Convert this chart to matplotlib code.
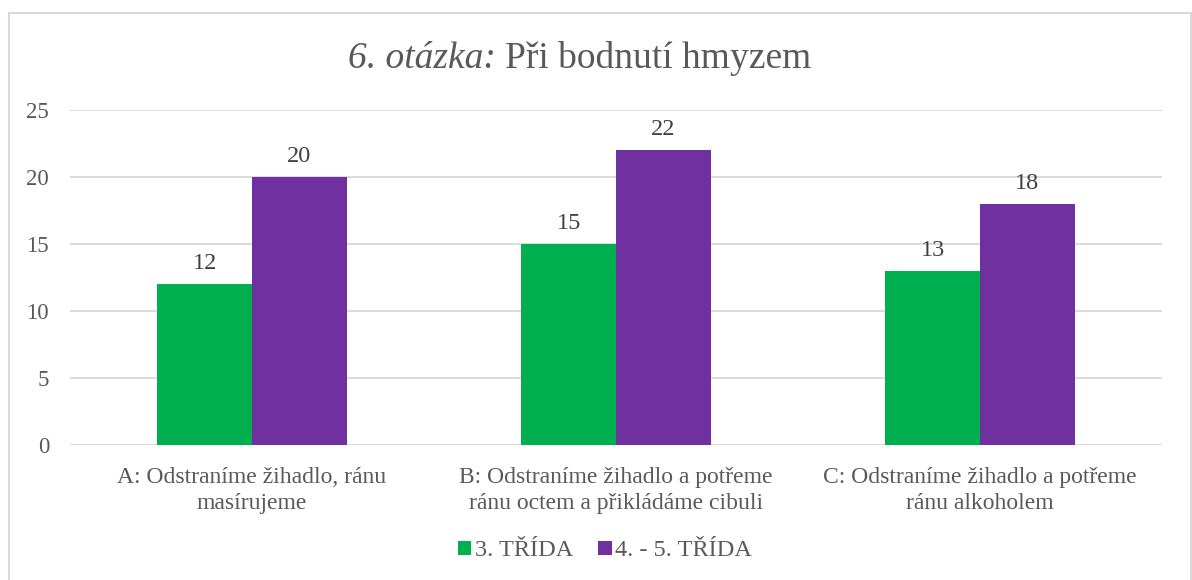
import matplotlib
matplotlib.use("Agg")
import matplotlib.pyplot as plt
import numpy as np
from matplotlib.patches import Rectangle

categories = ["A: Odstraníme žihadlo, ránu\nmasírujeme",
              "B: Odstraníme žihadlo a potřeme\nránu octem a přikládáme cibuli",
              "C: Odstraníme žihadlo a potřeme\nránu alkoholem"]
series_names = ["3. TŘÍDA", "4. - 5. TŘÍDA"]
values_3 = [12, 15, 13]
values_45 = [20, 22, 18]
yticks = [0, 5, 10, 15, 20, 25]

colors = ["#00B050", "#7030A0"]
txt = "#595959"
plt.rcParams['font.family'] = ['Liberation Serif', 'DejaVu Serif']

W, H = 1192, 580
fig = plt.figure(figsize=(W/100, H/100), dpi=100)
ax = fig.add_axes([70/W, 1-445/H, (1162-70)/W, (445-110)/H])

x = np.arange(len(categories))
bw = 0.26
b1 = ax.bar(x - bw/2, values_3, bw, color=colors[0], label=series_names[0], zorder=3)
b2 = ax.bar(x + bw/2, values_45, bw, color=colors[1], label=series_names[1], zorder=3)
for bars in (b1, b2):
    for r in bars:
        ax.annotate(f"{int(r.get_height())}", (r.get_x()+r.get_width()/2, r.get_height()),
                    xytext=(0, 7), textcoords="offset points", ha="center", va="bottom",
                    fontsize=17.5, color="#404040")

ax.set_xlim(-0.5, 2.5)
ax.set_ylim(0, 25)
ax.set_yticks(yticks)
ax.set_yticklabels([str(t) for t in yticks], fontsize=16.5, color=txt)
ax.set_xticks(x)
ax.set_xticklabels(categories, fontsize=17, color=txt, linespacing=1.32)
ax.tick_params(axis='both', length=0)
ax.tick_params(axis='y', pad=15)
ax.tick_params(axis='x', pad=16)
ax.grid(axis='y', color="#D9D9D9", linewidth=1.3, zorder=0)
for s in ax.spines.values():
    s.set_visible(False)
ax.axhline(0, color="#D9D9D9", linewidth=1.3, zorder=2)

fig.text(505/W, 1-59/H, "6. otázka: ", fontsize=27, style="italic", color=txt, ha="right", va="center")
fig.text(505/W, 1-59/H, "Při bodnutí hmyzem", fontsize=27, color=txt, ha="left", va="center")

leg = fig.legend(handles=[b1, b2], labels=series_names, loc="center", bbox_to_anchor=(605/W, 1-551/H),
                 ncol=2, frameon=False, fontsize=17.5, handlelength=0.55, handleheight=0.55,
                 handletextpad=0.15, columnspacing=1.05)
for t in leg.get_texts():
    t.set_color(txt)

fig.patches.append(Rectangle((8.5/W, -0.1), (1190.5-8.5)/W, 1.1 - 13.5/H, transform=fig.transFigure,
                             fill=False, edgecolor="#D9D9D9", linewidth=1.5))
fig.savefig("out.png", dpi=100, facecolor="white")
